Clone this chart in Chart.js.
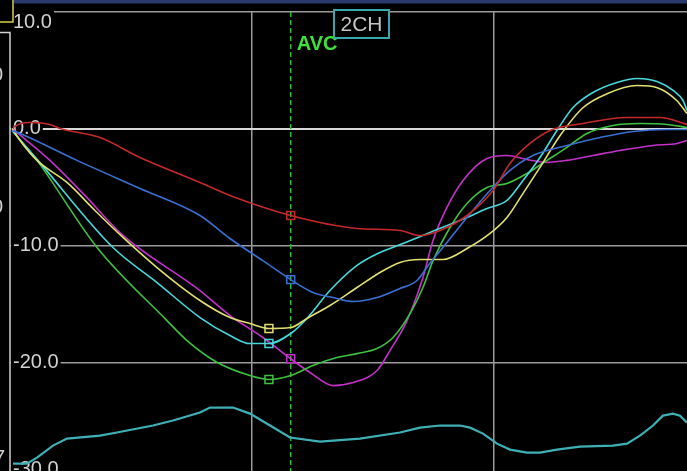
<!DOCTYPE html>
<html>
<head>
<meta charset="utf-8">
<script src="https://cdn.jsdelivr.net/npm/chart.js@4/dist/chart.umd.min.js"></script>
<style>
  html, body { margin:0; padding:0; background:#000; overflow:hidden; }
  #wrap { width:687px; height:490px; }
</style>
</head>
<body>
<div id="wrap"><canvas id="strain" width="687" height="490"></canvas></div>
<script>
// segment strain traces, [time ms, strain %]
const red = [[2.5,0.11],[9,0.45],[16.5,0.54],[25,0.5],[33,0.37],[41.3,0.03],[74.4,-0.75],[107.4,-2.46],[157,-4.6],[181.8,-5.72],[232,-7.43],[286.8,-8.54],[322.3,-8.71],[338.8,-9.14],[355.4,-8.71],[377.7,-7.43],[399.2,-5.29],[413.2,-2.97],[429.7,-1.26],[446.3,-0.15],[473.5,0.45],[509.9,0.97],[537.2,0.97],[559.5,0.37]];
const blue = [[1.7,-0.15],[8.3,-0.4],[55.4,-2.71],[107.4,-5.12],[157,-7.43],[181.8,-9.4],[209,-11.3],[232,-12.92],[250.4,-14.03],[266.9,-14.46],[283.5,-14.8],[303.3,-14.46],[322.3,-13.68],[336.3,-13.0],[347.1,-11.5],[357.8,-10.17],[377.7,-7.6],[396.7,-5.29],[413.2,-3.57],[432.2,-2.29],[460.3,-1.43],[487.6,-0.75],[514.9,-0.23],[543,-0.06],[559.5,-0.06]];
const yellow = [[1.7,0.03],[8.3,-1.0],[22.3,-2.71],[47.1,-4.6],[70.2,-7.0],[93.4,-9.31],[121.5,-11.89],[157,-14.71],[181.8,-16.17],[198.3,-16.68],[214,-17.11],[232,-17.03],[245.4,-16.25],[264.4,-15.14],[286.8,-13.6],[305.8,-12.31],[322.3,-11.45],[338.8,-11.2],[357.8,-11.2],[377.7,-10.26],[396.7,-8.97],[410.7,-7.6],[424,-5.54],[438,-3.31],[454.5,-0.6],[473.5,1.8],[493.4,3.0],[518.2,3.7],[535.5,3.5],[551.2,2.4],[559.5,1.3]];
const cyan = [[1.7,-0.15],[23.1,-2.71],[85.1,-10.17],[121.5,-13.17],[157,-16.17],[181.8,-17.71],[198.3,-18.4],[214,-18.4],[232,-17.54],[245.4,-16.25],[264.4,-13.86],[286.8,-11.71],[305.8,-10.6],[324.8,-9.83],[347.1,-8.88],[377.7,-7.6],[394.2,-6.83],[410.7,-6.14],[424,-4.43],[438,-2.46],[452,-0.15],[465.3,1.82],[481.8,3.11],[501.6,3.97],[518.2,4.31],[534.7,4.05],[548,3.28],[556.2,2.42],[559.5,1.57]];
const green = [[1.7,-0.15],[22.3,-2.71],[71.9,-10.17],[129.7,-16.43],[146.3,-18.14],[171,-20.0],[198.3,-21.14],[214,-21.48],[232,-21.14],[250.4,-20.28],[270.2,-19.6],[286.8,-19.26],[303.3,-18.83],[316.5,-17.88],[330.6,-15.83],[341.3,-13.6],[349.6,-11.3],[363.6,-8.46],[377.7,-6.4],[394.2,-5.03],[410.7,-4.69],[427.2,-3.83],[443.8,-2.71],[460.3,-1.59],[476.8,-0.4],[498.3,0.28],[520.6,0.45],[543,0.37],[559.5,0.11]];
const magenta = [[1.7,0.03],[33,-2.71],[60.3,-5.54],[93.4,-9.14],[157,-13.86],[181.8,-16.0],[209,-17.88],[232,-19.7],[247.9,-20.88],[266.9,-22.0],[283.5,-21.74],[303.3,-20.71],[314,-19.0],[328.1,-16.43],[341.3,-12.74],[349.6,-9.57],[361.1,-6.74],[374.4,-4.43],[394.2,-2.54],[410.7,-2.29],[427.2,-2.63],[443.8,-2.88],[460.3,-2.71],[481.8,-2.29],[504.1,-1.86],[531.4,-1.43],[551.2,-1.26],[559.5,-1.0]];
// reference trace along the bottom
const ecg = [[2.5,-28.68],[14,-28.68],[22.3,-28.17],[35.5,-27.14],[47.1,-26.54],[74.4,-26.28],[88.4,-26.02],[118.2,-25.42],[134.7,-24.99],[157,-24.31],[165.3,-23.88],[184.3,-23.88],[198.3,-24.4],[214.9,-25.42],[231.4,-26.45],[256.2,-26.8],[289.2,-26.54],[322.3,-26.02],[338.8,-25.6],[355.4,-25.42],[371.9,-25.42],[380.2,-25.6],[390.9,-26.11],[402.5,-26.97],[413.2,-27.48],[427.2,-27.74],[438,-27.74],[452,-27.48],[471,-27.22],[498.3,-27.14],[509.9,-26.97],[520.6,-26.28],[531.4,-25.42],[539.6,-24.57],[548,-24.4],[553.7,-24.57],[559.5,-25.17]];

const segments = [red, blue, yellow, cyan, green, magenta];
const segColors = ['#c42a2a', '#3a70d2', '#e2e070', '#48d8dc', '#3fc23f', '#c232c8'];
// peak markers, same order as segments
const markTimes = [232, 232, 214, 214, 214, 232];
const markValues = [-7.43, -12.92, -17.11, -18.4, -21.48, -19.7];

const tickValues = [10, 0, -10, -20, -30];
const tickLabels = ['10.0', '0.0', '-10.0', '-20.0', '-30.0'];
const avcTime = 232;

const toXY = arr => arr.map(p => ({x:p[0], y:p[1]}));

const datasets = [];
segments.forEach((s, i) => {
  datasets.push({
    data: toXY(s), borderColor: segColors[i], borderWidth: 1.6,
    pointRadius: 0, cubicInterpolationMode: 'monotone', order: 2
  });
  datasets.push({
    data: [{x: markTimes[i], y: markValues[i]}], showLine: false,
    pointStyle: 'rect', pointRadius: 5.6, pointBorderWidth: 1.5,
    pointBorderColor: segColors[i], pointBackgroundColor: 'rgba(0,0,0,0)', order: 0
  });
});
datasets.push({
  data: toXY(ecg), borderColor: '#3fb0b6', borderWidth: 2.2,
  pointRadius: 0, tension: 0, order: 1
});

const overlay = {
  id: 'overlay',
  beforeDatasetsDraw(chart){
    const {ctx, chartArea:a, scales:{x, y}} = chart;
    ctx.save();
    // axis value labels sit inside the plot on a black patch
    ctx.font = '20px "Liberation Sans", Arial, sans-serif';
    ctx.textBaseline = 'middle';
    tickValues.forEach((v, i) => {
      const txt = tickLabels[i];
      let cy = y.getPixelForValue(v);
      cy = Math.min(Math.max(cy, a.top + 10), a.bottom - 10);
      const w = ctx.measureText(txt).width;
      ctx.fillStyle = '#000';
      if(i === 0) ctx.fillRect(0, 0, a.left + 5 + w, cy + 11);
      else ctx.fillRect(a.left + 1, cy - 11, w + 4, 22);
      ctx.fillStyle = '#d2d2d2';
      ctx.fillText(txt, a.left + 3, cy);
    });
    // panel frame on the left
    ctx.strokeStyle = '#d0d0d0';
    ctx.lineWidth = 1.5;
    ctx.beginPath();
    ctx.moveTo(0, a.top + 20.5);
    ctx.lineTo(a.left, a.top + 20.5);
    ctx.lineTo(a.left, a.bottom);
    ctx.stroke();
    // AVC marker line
    const ax = x.getPixelForValue(avcTime);
    ctx.strokeStyle = '#33b833';
    ctx.setLineDash([5, 3]);
    ctx.beginPath();
    ctx.moveTo(ax, a.top);
    ctx.lineTo(ax, a.bottom);
    ctx.stroke();
    ctx.setLineDash([]);
    ctx.font = 'bold 20px "Liberation Sans", Arial, sans-serif';
    ctx.fillStyle = '#3ee03e';
    ctx.fillText('AVC', ax + 6, 44);
    ctx.restore();
  },
  afterDraw(chart){
    const {ctx} = chart;
    ctx.save();
    // view tag
    ctx.fillStyle = '#000';
    ctx.fillRect(333, 9, 57, 30);
    ctx.strokeStyle = '#3aa6ae';
    ctx.lineWidth = 2;
    ctx.strokeRect(334, 10, 55, 28);
    ctx.font = '21px "Liberation Sans", Arial, sans-serif';
    ctx.fillStyle = '#c4c4c4';
    ctx.textAlign = 'center';
    ctx.textBaseline = 'middle';
    ctx.fillText('2CH', 361.5, 25);
    // header strip and neighbouring panel edge
    ctx.fillStyle = '#2b3a6c';
    ctx.fillRect(14, 0, chart.width - 14, 3.5);
    ctx.strokeStyle = '#d8d23c';
    ctx.lineWidth = 1.5;
    ctx.beginPath();
    ctx.moveTo(13, 0);
    ctx.lineTo(13, 22);
    ctx.lineTo(0, 22);
    ctx.stroke();
    ctx.textAlign = 'left';
    ctx.font = '20px "Liberation Sans", Arial, sans-serif';
    ctx.fillStyle = '#cfcfcf';
    ctx.fillText('0', -8, 75);
    ctx.fillText('0', -8, 207);
    ctx.fillText('7', -6, 458);
    ctx.restore();
  }
};

new Chart(document.getElementById('strain'), {
  type: 'line',
  data: { datasets },
  options: {
    responsive: false,
    devicePixelRatio: 1,
    animation: false,
    layout: { autoPadding: false, padding: { left: 10, top: 12, right: 0, bottom: 11 } },
    plugins: { legend: { display: false }, tooltip: { enabled: false } },
    scales: {
      x: {
        type: 'linear', min: 0, max: 559.5,
        ticks: { display: false, stepSize: 200, includeBounds: false },
        border: { display: false },
        grid: {
          drawTicks: false, lineWidth: 1.5,
          color: c => (c.tick && c.tick.value === 0) ? 'rgba(0,0,0,0)' : '#9c9c9c'
        }
      },
      y: {
        type: 'linear', min: -30, max: 10,
        ticks: { display: false, stepSize: 10 },
        border: { display: false },
        grid: {
          drawTicks: false,
          lineWidth: c => (c.tick && c.tick.value === 0) ? 2 : 1.5,
          color: c => (c.tick && c.tick.value === 0) ? '#d8d8d8' : '#9c9c9c'
        }
      }
    }
  },
  plugins: [overlay]
});
</script>
</body>
</html>
